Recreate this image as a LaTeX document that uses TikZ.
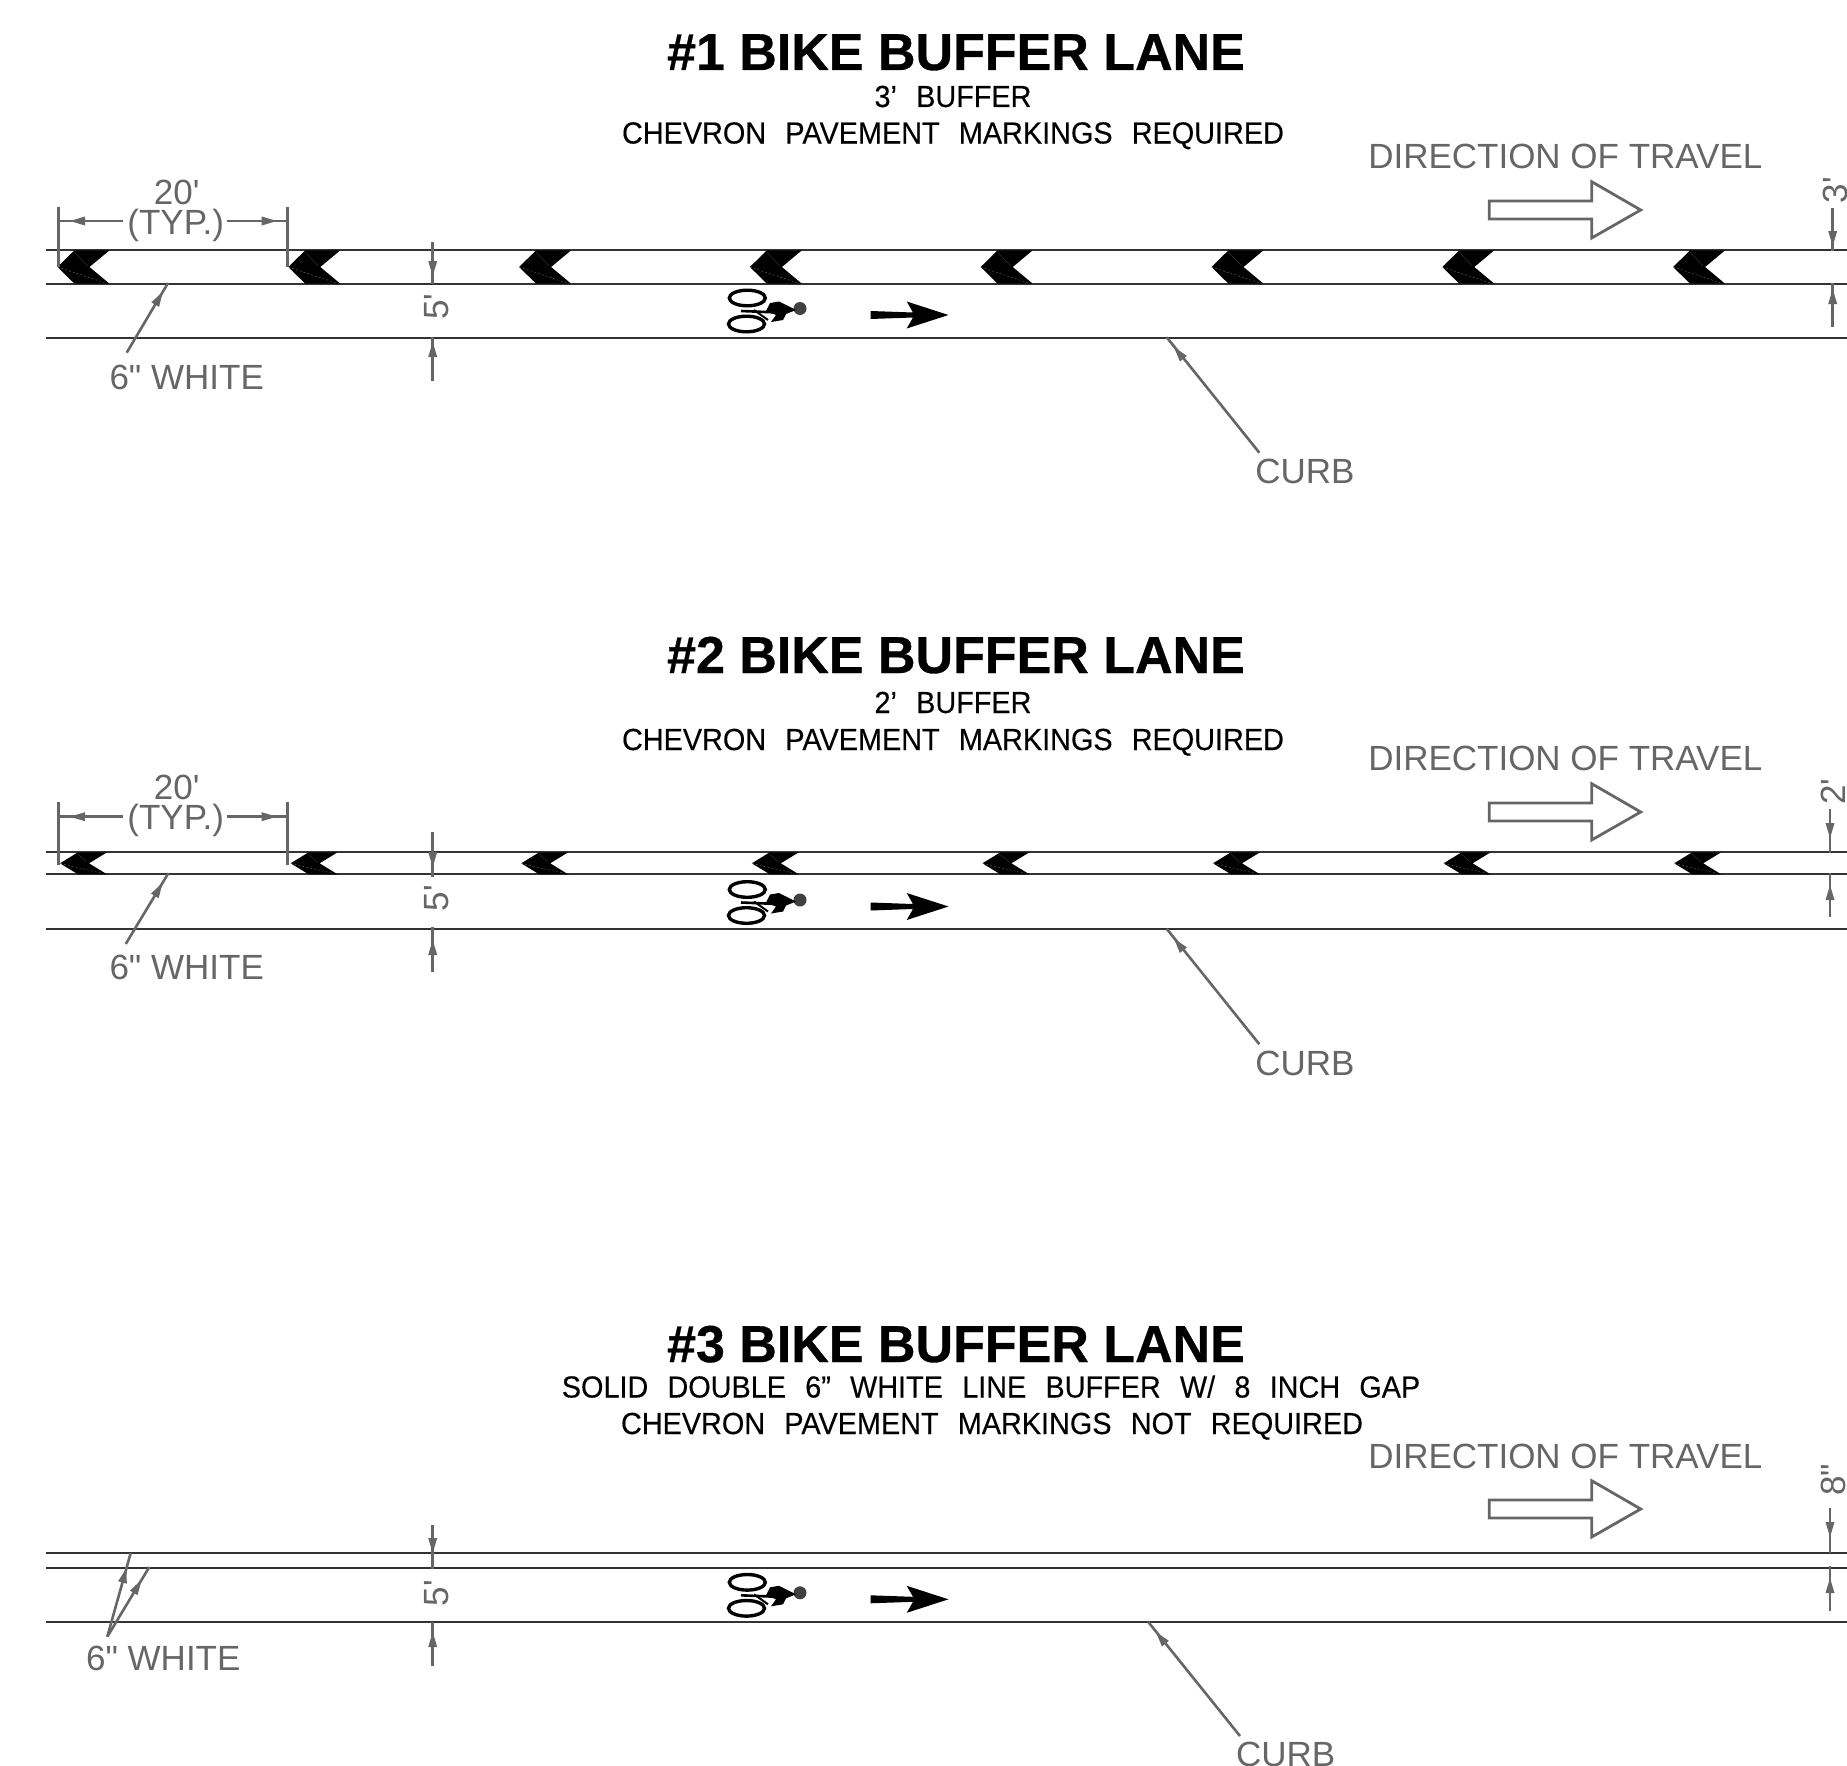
\documentclass[tikz,border=0pt]{standalone}
\usepackage{fontspec}
\setmainfont{Liberation Sans}[Ligatures=TeXOff,BoldFeatures={FakeBold=0.6}]
\newfontfamily\subf{Liberation Sans}[Ligatures=TeXOff,FakeStretch=0.945,WordSpace=2.4,FakeBold=0.25]
\definecolor{dimc}{HTML}{666666}
\definecolor{roadc}{HTML}{333333}
\newcommand\headat[2]{\fill[dimc,shift={(#1)},rotate=#2] (0,0)--(-15,4.5)--(-15,-4.5)--cycle;}
\newcommand\chev[6]{% tip x, mid y, half height, top-left, notch, top-right offsets
  \fill[black] (#1,#2)--(#1+#4,#2-#3)--(#1+#6,#2-#3)--(#1+#5,#2)--(#1+#6,#2+#3)--(#1+#4,#2+#3)--cycle;
  \draw[white,opacity=.45,line width=.35pt,dash pattern=on 2pt off 2pt] (#1,#2)--(#1+#6-5,#2+#3-1);
  \draw[dimc,opacity=.6,line width=.35pt] (#1+#4,#2-#3+2)--(#1+#5-2,#2-1);}
\newcommand\bikesym[1]{\begin{scope}[yshift=-#1pt]
  \draw[black,line width=3.4pt] (747.3,298) ellipse [x radius=18,y radius=7.8];
  \draw[black,line width=3.4pt] (746.5,324) ellipse [x radius=18,y radius=7.8];
  \fill[black!75] (800,308.5) circle [radius=6.5];
  \fill[black] (770,303)--(779,301.5)--(796,310)--(786,314)--(783,320)--(771,322)--(776,315)--(766,311)--cycle;
  \draw[black,line width=2.6pt] (741,311)--(778,312.5);
  \draw[black,line width=2pt] (754,310)--(768,320);
  \fill[black] (870.7,311)--(913,312.5)--(906.7,301.5)--(948.5,315)--(906.7,328.5)--(913,317.5)--(870.7,319)--cycle;
\end{scope}}
\newcommand\dirsym[1]{% arrow offset
  \begin{scope}[yshift=-#1pt]
  \draw[dimc,line width=2.8pt,line join=miter] (1489.3,201)--(1591.7,201)--(1591.7,181.7)--(1640.7,210)--(1591.7,238)--(1591.7,219)--(1489.3,219)--cycle;
  \end{scope}}
\tikzset{
  road/.style={draw=roadc,line width=2pt},
  dimln/.style={draw=dimc,line width=2.6pt},
  lbl/.style={text=dimc,inner sep=0pt,font=\fontsize{35}{35}\selectfont,text height=25pt,text depth=0pt,anchor=center},
  titlef/.style={text=black,inner sep=0pt,font=\fontsize{52}{52}\selectfont\bfseries,text height=37pt,text depth=0pt,anchor=center},
  subt/.style={text=black,inner sep=0pt,font=\fontsize{30.5}{30.5}\selectfont\subf,text height=22pt,text depth=0pt,anchor=center},
}
\begin{document}
\begin{tikzpicture}[x=1pt,y=-1pt]
\useasboundingbox (0,0) rectangle (1847,1766);
% === road lines
\foreach \ya in {250.3,283.7,338,852.3,874.3,929.3,1553.3,1567.7,1622.3}
  \draw[road] (46,\ya)--(1847,\ya);
% === titles
\node[titlef] (t1) at (956,51.5) {\#1 BIKE BUFFER LANE};
\node[subt] (s1a) at (953,96) {3’ BUFFER};
\node[subt] (s1b) at (953,132.5) {CHEVRON PAVEMENT MARKINGS REQUIRED};
\node[titlef] (t2) at (956,654.5) {\#2 BIKE BUFFER LANE};
\node[subt] (s2a) at (953,702) {2’ BUFFER};
\node[subt] (s2b) at (953,739) {CHEVRON PAVEMENT MARKINGS REQUIRED};
\node[titlef] (t3) at (956,1343.5) {\#3 BIKE BUFFER LANE};
\node[subt] (s3a) at (991,1386.5) {SOLID DOUBLE 6” WHITE LINE BUFFER W/ 8 INCH GAP};
\node[subt] (s3b) at (992,1423) {CHEVRON PAVEMENT MARKINGS NOT REQUIRED};
% === chevrons
\foreach \k in {0,...,7} {
  \pgfmathsetmacro\tipa{57.5+230.8*\k}
  \chev{\tipa}{267}{16.7}{17}{32}{52}
  \pgfmathsetmacro\tipb{60+230.6*\k}
  \chev{\tipb}{863.3}{11}{18}{29}{47}
}
% === 20' dims
\draw[dimln] (58.3,206.7)--(58.3,266.7);
\draw[dimln] (287.3,206.7)--(287.3,266.7);
\draw[dimln] (58.3,221)--(123,221);
\draw[dimln] (226.7,221)--(287.3,221);
\headat{70,221}{180}
\headat{276.7,221}{0}
\node[lbl] (d1a) at (176.7,192) {20'};
\node[lbl] (d1b) at (175.7,221.5) {(TYP.)};
\draw[dimln] (58.3,802.3)--(58.3,865);
\draw[dimln] (287.3,802.3)--(287.3,865);
\draw[dimln] (58.3,816.7)--(123,816.7);
\draw[dimln] (226.7,816.7)--(287.3,816.7);
\headat{70,816.7}{180}
\headat{276.7,816.7}{0}
\node[lbl] (d2a) at (176.7,787) {20'};
\node[lbl] (d2b) at (175.7,817) {(TYP.)};
% === 5' dims
\draw[dimln] (432.7,241.7)--(432.7,283.7);
\draw[dimln] (432.7,337)--(432.7,380.7);
\headat{432.7,276}{-90}
\headat{432.7,342}{90}
\node[lbl,rotate=90] (f1) at (436,306.7) {5'};
\draw[dimln] (432.7,831.7)--(432.7,876.7);
\draw[dimln] (432.7,927.3)--(432.7,972.3);
\headat{432.7,867}{-90}
\headat{432.7,940}{90}
\node[lbl,rotate=90] (f2) at (436,898.3) {5'};
\draw[dimln] (432.7,1525)--(432.7,1569);
\draw[dimln] (432.7,1622)--(432.7,1665.7);
\headat{432.7,1553}{-90}
\headat{432.7,1632}{90}
\node[lbl,rotate=90] (f3) at (436,1593) {5'};
% === 6" WHITE
\node[lbl] (w1) at (186.7,376.7) {6" WHITE};
\draw[dimln] (126.7,352.7)--(168,283);
\headat{162.8,291.7}{59.6}
\node[lbl] (w2) at (186.7,966.7) {6" WHITE};
\draw[dimln] (125.7,944)--(168.3,873.3);
\headat{162.5,883}{59}
\node[lbl] (w3) at (163.3,1657.7) {6" WHITE};
\draw[dimln] (107.3,1636.7)--(130.7,1553);
\draw[dimln] (107.3,1636.7)--(149.3,1567);
\headat{126.5,1568}{74.4}
\headat{141.5,1580}{58.9}
% === CURB
\node[lbl] (c1) at (1305,471) {CURB};
\draw[dimln] (1259.3,452.7)--(1166.7,337.3);
\headat{1174,347}{128.7}
\node[lbl] (c2) at (1305,1062.5) {CURB};
\draw[dimln] (1259.3,1044.2)--(1166.7,928.8);
\headat{1174,938.5}{128.7}
\node[lbl] (c3) at (1285.7,1754.3) {CURB};
\draw[dimln] (1240,1736)--(1148.3,1622);
\headat{1156,1632}{128.8}
% === bike symbols
\bikesym{0}
\bikesym{591.5}
\bikesym{1284.3}
% === direction of travel
\node[lbl] (dt1) at (1565.3,156) {DIRECTION OF TRAVEL};
\node[lbl] (dt2) at (1565.3,757.5) {DIRECTION OF TRAVEL};
\node[lbl] (dt3) at (1565.3,1455.5) {DIRECTION OF TRAVEL};
\dirsym{0}
\dirsym{602}
\dirsym{1299}
% === right dims
\draw[dimln] (1832.7,208)--(1832.7,251);
\draw[dimln] (1832.7,283)--(1832.7,326.7);
\headat{1832.7,246}{-90}
\headat{1832.7,289}{90}
\node[lbl,rotate=90] (r1) at (1835,190) {3'};
\draw[dimln] (1830,809.3)--(1830,852.7);
\draw[dimln] (1830,873.3)--(1830,916.7);
\headat{1830,838}{-90}
\headat{1830,885}{90}
\node[lbl,rotate=90] (r2) at (1832.7,791.7) {2'};
\draw[dimln] (1830,1508)--(1830,1553);
\draw[dimln] (1830,1566)--(1830,1610.7);
\headat{1830,1537}{-90}
\headat{1830,1578}{90}
\node[lbl,rotate=90] (r3) at (1832.7,1480) {8"};
\end{tikzpicture}
\end{document}
